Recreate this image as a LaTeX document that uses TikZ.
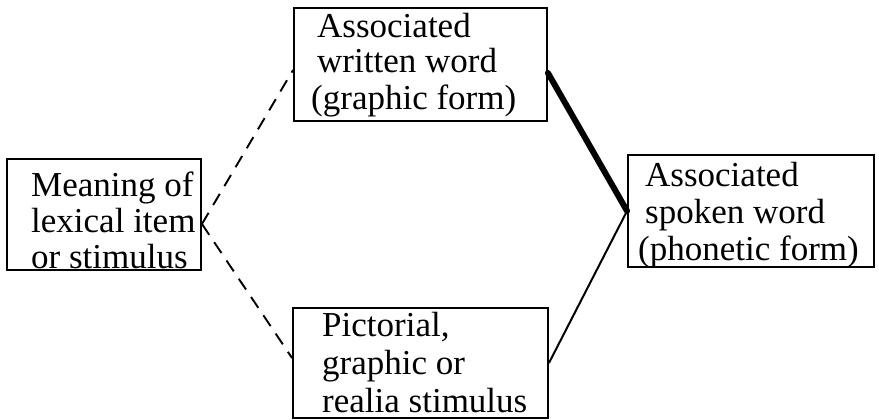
\documentclass[tikz,border=0pt]{standalone}
\usepackage{fontspec}
\setmainfont{Liberation Serif}
\begin{document}
\begin{tikzpicture}[x=1pt,y=-1pt,
  box/.style={draw, line width=1.9pt, inner sep=0pt},
  txt/.style={anchor=base west, inner sep=0pt, font=\fontsize{35}{37}\selectfont},
  dashconn/.style={line width=1.9pt, dash pattern=on 13pt off 9pt},
  thickconn/.style={line width=6pt, line cap=round},
  thinconn/.style={line width=2pt}]
\useasboundingbox (0,0) rectangle (879,420);
% boxes
\node[box, minimum width=194pt, minimum height=111pt] (meaning) at (104,214.5) {};
\node[box, minimum width=253pt, minimum height=113pt] (written) at (420.5,64.5) {};
\node[box, minimum width=246pt, minimum height=112pt] (spoken) at (751,211) {};
\node[box, minimum width=255pt, minimum height=110pt] (picture) at (420.5,363) {};
% texts
\node[txt] (m1) at (31,196) {Meaning of};
\node[txt] (m2) at (31,232) {lexical item};
\node[txt] (m3) at (31,268) {or stimulus};
\node[txt] (w1) at (317,38) {Associated};
\node[txt] (w2) at (317,73) {written word};
\node[txt] (w3) at (311,110) {(graphic form)};
\node[txt] (s1) at (645,186) {Associated};
\node[txt] (s2) at (645,223) {spoken word};
\node[txt] (s3) at (638,260) {(phonetic form)};
\node[txt] (p1) at (322,336) {Pictorial,};
\node[txt] (p2) at (322,374) {graphic or};
\node[txt] (p3) at (322,412) {realia stimulus};
% connector points
\coordinate (mJ) at ([yshift=-9.5pt]meaning.east);
\coordinate (wL) at ([yshift=-5.5pt]written.west);
\coordinate (wR) at ([yshift=-8.5pt]written.east);
\coordinate (pL) at ([yshift=5pt]picture.west);
% connectors
\draw[dashconn] (mJ) -- (wL);
\draw[dashconn] (mJ) -- (pL);
\draw[thickconn] (wR) -- (spoken.west);
\draw[thinconn] (spoken.west) -- (picture.east);
\end{tikzpicture}
\end{document}
